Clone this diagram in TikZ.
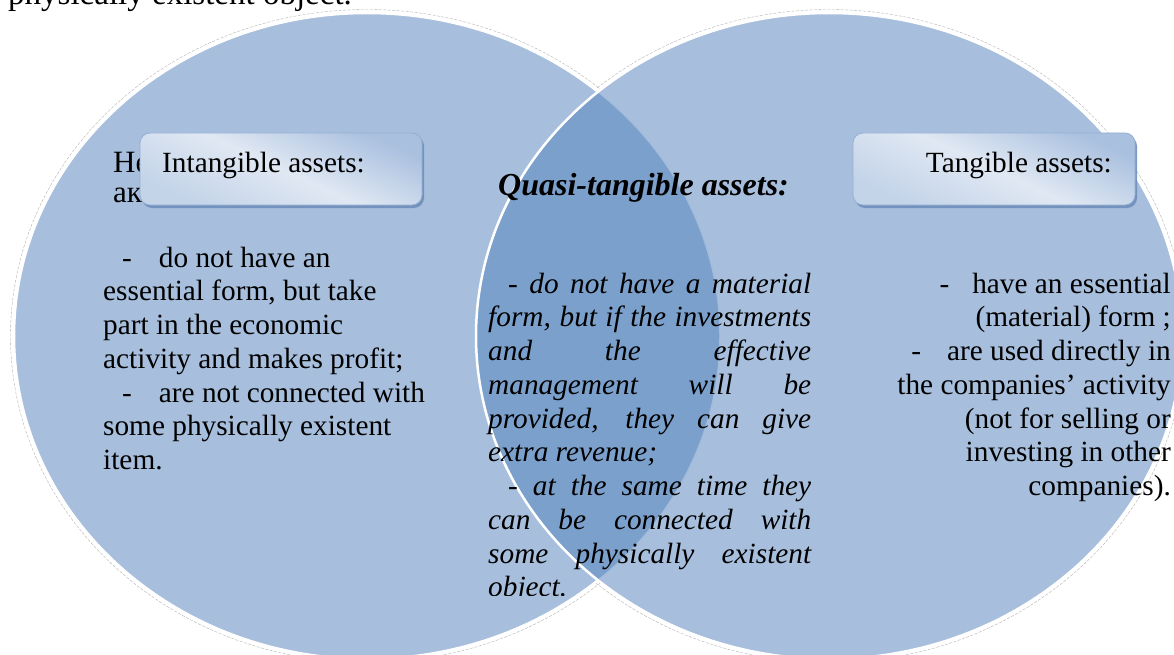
\documentclass[tikz,border=0pt]{standalone}
\usepackage{fontspec}
\setmainfont{Liberation Serif}
\usetikzlibrary{shadows}
\definecolor{venn}{HTML}{A7BFDD}
\definecolor{vennover}{HTML}{7BA0CC}
\definecolor{boxtop}{HTML}{A9C0DF}
\definecolor{boxmid}{HTML}{E0E8F3}
\definecolor{boxbot}{HTML}{C3D3E8}
\definecolor{boxedge}{HTML}{94AFD4}
\definecolor{shadowblue}{HTML}{6E8EBB}
\newcommand\jline[1]{\leavevmode\hbox to 323pt{\spaceskip=7.3pt plus 1fil minus 3pt\relax #1}}
\newcommand\normalspaces{\spaceskip=0pt\xspaceskip=0pt\relax}
\begin{document}
\begin{tikzpicture}[x=1pt,y=-1pt,
  bodytext/.style={inner sep=0pt, font=\fontsize{29.3}{33.75}\selectfont},
  headbox/.style={draw=boxedge, line width=0.8pt, rounded corners=10pt,
    top color=boxtop, bottom color=boxbot, middle color=boxmid, shading angle=-25,
    minimum width=282pt, minimum height=72pt, inner sep=0pt,
    drop shadow={shadow xshift=2pt, shadow yshift=-3pt, fill=shadowblue, opacity=0.9}},
  whiteedge/.style={draw=white, line width=2.5pt},
  glowedge/.style={draw=black!30, line width=0.4pt, dash pattern=on 3pt off 1.5pt},
  venshape/.style={x radius=353pt, y radius=323pt},
  glowshape/.style={x radius=356.5pt, y radius=326.5pt}
]
\useasboundingbox (0,0) rectangle (1174,655);
\clip (0,0) rectangle (1174,655);
\coordinate (lc) at (367,336);
\coordinate (rc) at (829,336);
% outlines and fills
\draw[glowedge] (rc) ellipse [glowshape];
\draw[glowedge] (lc) ellipse [glowshape];
\fill[venn] (lc) ellipse [venshape];
\draw[whiteedge] (lc) ellipse [venshape];
\fill[venn] (rc) ellipse [venshape];
\begin{scope}
  \clip (lc) ellipse [venshape];
  \fill[vennover] (rc) ellipse [venshape];
  \draw[white, opacity=0.3, line width=1.5pt] (lc) ellipse [venshape];
\end{scope}
\draw[whiteedge] (rc) ellipse [venshape];
% cut-off text at top
\node[anchor=base west, inner sep=0pt, font=\fontsize{33}{36}\selectfont] (toptext) at (8,5) {physically existent object.};
% hidden cyrillic text
\node[anchor=base west, inner sep=0pt, font=\fontsize{31}{34}\selectfont] (cyra) at (113,172) {Не};
\node[anchor=base west, inner sep=0pt, font=\fontsize{31}{34}\selectfont] (cyrb) at (113,202) {ак};
% heading boxes
\node[headbox] (ibox) at (281,169) {};
\node[headbox] (tbox) at (994,169) {};
\node[bodytext, anchor=base west] (ilabel) at (162,172) {Intangible assets:};
\node[bodytext, anchor=base east] (tlabel) at (1112,172) {Tangible assets:};
% middle title
\node[anchor=base west, inner sep=0pt, font=\fontsize{32}{36}\selectfont\bfseries\itshape] (qtitle) at (498,195) {Quasi-tangible assets:};
% left text
\node[bodytext, anchor=base west, text width=340pt, align=left] (ltext) at (103,267)
  {\normalspaces\hspace*{19pt}-\hspace*{27pt}do not have an\\
   essential form, but take\\
   part in the economic\\
   activity and makes profit;\\
   \hspace*{19pt}-\hspace*{27pt}are not connected with\\
   some physically existent\\
   item.};
% right text
\node[bodytext, anchor=base east, text width=300pt, align=right] (rtext) at (1171,293)
  {\normalspaces\leftskip=0pt plus 1fil\rightskip=0pt\parfillskip=0pt\relax
   -\hspace*{23pt}have an essential\\
   (material) form ;\\
   -\hspace*{26pt}are used directly in\\
   the companies’ activity\\
   (not for selling or\\
   investing in other\\
   companies).};
% middle text
\begin{scope}
  \clip (470,240) rectangle (840,595);
  \node[inner sep=0pt, anchor=base west, text width=323pt, align=left,
        font=\fontsize{29.3}{33.75}\selectfont\itshape] (qtext) at (488,293)
  {\normalspaces\jline{\hspace*{20pt}- do not have a material}\\
   \jline{form, but if the investments}\\
   \jline{and the effective}\\
   \jline{management will be}\\
   \jline{provided, they can give}\\
   extra revenue;\\
   \jline{\hspace*{20pt}- at the same time they}\\
   \jline{can be connected with}\\
   \jline{some physically existent}\\
   object.};
\end{scope}
\end{tikzpicture}
\end{document}
